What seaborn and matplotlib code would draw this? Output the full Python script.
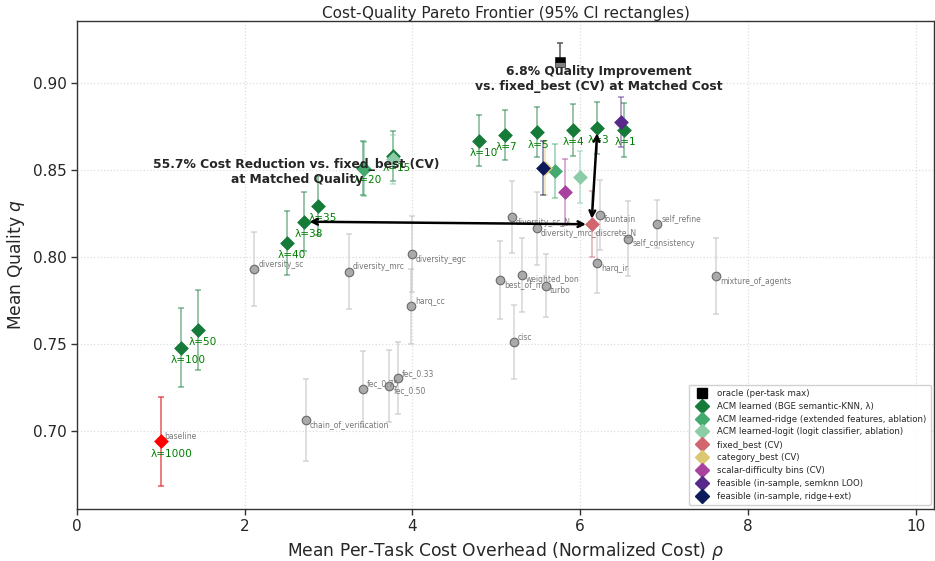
import numpy as np
import pandas as pd
import matplotlib
matplotlib.use("Agg")
import matplotlib.pyplot as plt
from matplotlib.lines import Line2D
import seaborn as sns

# ---------------- data ----------------
base_names = ["chain_of_verification", "diversity_sc", "diversity_mrc", "diversity_egc",
              "harq_cc", "fec_0.75", "fec_0.50", "fec_0.33", "cisc", "best_of_n",
              "weighted_bon", "turbo", "diversity_sc_N", "diversity_mrc_discrete_N",
              "fountain", "harq_ir", "self_consistency", "self_refine", "mixture_of_agents",
              "baseline"]
base_cost = [2.726, 2.111, 3.238, 3.992, 3.988, 3.405, 3.722, 3.825, 5.206, 5.044,
             5.306, 5.591, 5.183, 5.484, 6.234, 6.206, 6.575, 6.920, 7.623, 0.996]
base_q = [0.7063, 0.7929, 0.7916, 0.8015, 0.7717, 0.7243, 0.7259, 0.7303, 0.7510, 0.7868,
          0.7898, 0.7835, 0.8228, 0.8165, 0.8243, 0.7964, 0.8105, 0.8190, 0.7889, 0.6939]
base_err = [0.0236, 0.0213, 0.0214, 0.0218, 0.0216, 0.0218, 0.0208, 0.0207, 0.0214, 0.0226,
            0.0213, 0.0180, 0.0208, 0.0209, 0.0202, 0.0173, 0.0217, 0.0137, 0.0218, 0.0255]
base_label_side = ["below", "above", "above", "below", "above", "above", "below", "above",
                   "above", "below", "below", "below", "below", "below", "below", "below",
                   "below", "above", "below", "above"]

acm_lambda = [1, 3, 4, 5, 7, 10, 15, 20, 35, 38, 40, 50, 100]
acm_cost = [6.524, 6.206, 5.909, 5.484, 5.103, 4.798, 3.766, 3.410, 2.873, 2.706, 2.508, 1.444, 1.238]
acm_q = [0.8730, 0.8743, 0.8730, 0.8717, 0.8701, 0.8668, 0.8582, 0.8510, 0.8295, 0.8203,
         0.8082, 0.7579, 0.7479]
acm_err = [0.0153, 0.0150, 0.0152, 0.0145, 0.0142, 0.0147, 0.0145, 0.0155, 0.0170, 0.0168,
           0.0185, 0.0230, 0.0228]

lam1000_cost = [0.996]
lam1000_q = [0.6939]
lam1000_err = [0.0255]

ridge_cost = [3.420, 5.699]
ridge_q = [0.8504, 0.8494]
ridge_err = [0.0155, 0.0156]

logit_cost = [3.766, 5.996]
logit_q = [0.8562, 0.8462]
logit_err = [0.0140, 0.0150]

fixed_cost = [6.135]
fixed_q = [0.8188]
fixed_err = [0.0190]

cat_cost = [5.575]
cat_q = [0.8510]
cat_err = [0.0155]

scalar_cost = [5.818]
scalar_q = [0.8375]
scalar_err = [0.0190]

semknn_cost = [6.484]
semknn_q = [0.8778]
semknn_err = [0.0144]

ridgeext_cost = [5.556]
ridgeext_q = [0.8510]
ridgeext_err = [0.0155]

oracle_cost = [5.758]
oracle_q = [0.9120]
oracle_err_lo = [0.0030]
oracle_err_hi = [0.0112]

# ---------------- style ----------------
C_ACM = "#167a39"
C_RIDGE = "#43a96f"
C_LOGIT = "#8bcda6"
C_FIXED = "#d2666f"
C_CAT = "#dcc873"
C_SCALAR = "#a9419f"
C_SEMKNN = "#56298a"
C_RIDGEEXT = "#0d1b5a"

sns.set_style("ticks")
plt.rcParams["font.family"] = ["DejaVu Sans"]

fig = plt.figure(figsize=(9.35, 5.61), dpi=100)
ax = fig.add_axes([0.0824, 0.0934, 0.9166, 0.8692])

MS_D = 7.0  # diamond size (pt)


def ebar(x, y, err, color, alpha=0.55, z=3, lw=1.1):
    ax.errorbar(x, y, yerr=err, fmt="none", ecolor=color, alpha=alpha,
                elinewidth=lw, capsize=2.4, capthick=lw, zorder=z)


def diamonds(x, y, color, z=5):
    df = pd.DataFrame({"x": x, "y": y})
    sns.scatterplot(data=df, x="x", y="y", marker="D", s=MS_D ** 2,
                    color=color, edgecolor=color, linewidth=0.5, ax=ax, zorder=z,
                    legend=False)


# grey baselines
ebar(base_cost, base_q, base_err, "#c4c4c4", alpha=0.7, z=1)
bdf = pd.DataFrame({"x": base_cost, "y": base_q})
sns.scatterplot(data=bdf, x="x", y="y", marker="o", s=38, color="#aaaaaa",
                edgecolor="#6a6a6a", linewidth=0.8, ax=ax, zorder=2, legend=False)
for n, x, y, side in zip(base_names, base_cost, base_q, base_label_side):
    dy = 3.6 if side == "above" else -3.6
    ax.annotate(n, (x, y), xytext=(3, dy), textcoords="offset points",
                fontsize=5.5, color="#777777", ha="left", va="center", zorder=2)

# oracle
ax.errorbar(oracle_cost, oracle_q, yerr=[oracle_err_lo, oracle_err_hi], fmt="none",
            ecolor="#555555", elinewidth=1.1, capsize=2.4, capthick=1.1, zorder=3)
ax.plot(oracle_cost, oracle_q, ls="none", marker="s", markersize=7.2,
        markerfacecolor="#808080", markerfacecoloralt="black", fillstyle="bottom",
        markeredgecolor="black", markeredgewidth=0.4, zorder=5)

# ACM learned
ebar(acm_cost, acm_q, acm_err, C_ACM, z=3)
diamonds(acm_cost, acm_q, C_ACM, z=5)
for lam, x, y in zip(acm_lambda, acm_cost, acm_q):
    ax.annotate(f"λ={lam}", (x, y), xytext=(-7, -8.8), textcoords="offset points",
                fontsize=7.6, color="green", ha="left", va="center", zorder=6)

# lambda=1000 (baseline point highlighted)
ebar(lam1000_cost, lam1000_q, lam1000_err, "red", z=3)
diamonds(lam1000_cost, lam1000_q, "red", z=5)
ax.annotate("λ=1000", (lam1000_cost[0], lam1000_q[0]), xytext=(-7, -8.8),
            textcoords="offset points", fontsize=7.6, color="green", ha="left",
            va="center", zorder=6)

# other methods
for cx, cy, ce, col in [(ridge_cost, ridge_q, ridge_err, C_RIDGE),
                        (logit_cost, logit_q, logit_err, C_LOGIT),
                        (fixed_cost, fixed_q, fixed_err, C_FIXED),
                        (cat_cost, cat_q, cat_err, C_CAT),
                        (scalar_cost, scalar_q, scalar_err, C_SCALAR),
                        (semknn_cost, semknn_q, semknn_err, C_SEMKNN),
                        (ridgeext_cost, ridgeext_q, ridgeext_err, C_RIDGEEXT)]:
    ebar(cx, cy, ce, col, z=3)
    diamonds(cx, cy, col, z=5)

# annotations
i38 = acm_lambda.index(38)
i3 = acm_lambda.index(3)
ax.annotate("", xy=(acm_cost[i38], acm_q[i38]), xytext=(fixed_cost[0], fixed_q[0]),
            arrowprops=dict(arrowstyle="<->", color="black", lw=1.8,
                            shrinkA=4, shrinkB=4, mutation_scale=10), zorder=7)
ax.annotate("", xy=(acm_cost[i3], acm_q[i3]), xytext=(fixed_cost[0], fixed_q[0]),
            arrowprops=dict(arrowstyle="<->", color="black", lw=1.8,
                            shrinkA=4, shrinkB=4, mutation_scale=10), zorder=7)
ax.text(2.62, 0.8489, "55.7% Cost Reduction vs. fixed_best (CV)\nat Matched Quality",
        ha="center", va="center", fontsize=8.9, fontweight="bold", zorder=8,
        multialignment="center")
ax.text(6.226, 0.9026, "6.8% Quality Improvement\nvs. fixed_best (CV) at Matched Cost",
        ha="center", va="center", fontsize=8.9, fontweight="bold", zorder=8,
        multialignment="center")

# axes
ax.set_xlim(0, 10.22)
ax.set_ylim(0.6553, 0.9357)
ax.set_xticks([0, 2, 4, 6, 8, 10])
ax.set_yticks([0.70, 0.75, 0.80, 0.85, 0.90])
ax.set_yticklabels(["0.70", "0.75", "0.80", "0.85", "0.90"])
ax.tick_params(labelsize=11, length=4, width=1, color="#333333")
ax.grid(True, ls=":", color="#dddddd", lw=0.9)
for sp in ax.spines.values():
    sp.set_color("#333333")
    sp.set_linewidth(1.0)
ax.set_xlabel(r"Mean Per-Task Cost Overhead (Normalized Cost) $\rho$", fontsize=12.3)
ax.set_ylabel(r"Mean Quality $q$", fontsize=12.3)
ax.set_title("Cost-Quality Pareto Frontier (95% CI rectangles)", fontsize=11, pad=0.5)

handles = [
    Line2D([], [], ls="none", marker="s", markersize=7, color="black"),
]
labels = ["oracle (per-task max)"]
for col, lab in [(C_ACM, "ACM learned (BGE semantic-KNN, λ)"),
                 (C_RIDGE, "ACM learned-ridge (extended features, ablation)"),
                 (C_LOGIT, "ACM learned-logit (logit classifier, ablation)"),
                 (C_FIXED, "fixed_best (CV)"),
                 (C_CAT, "category_best (CV)"),
                 (C_SCALAR, "scalar-difficulty bins (CV)"),
                 (C_SEMKNN, "feasible (in-sample, semknn LOO)"),
                 (C_RIDGEEXT, "feasible (in-sample, ridge+ext)")]:
    handles.append(Line2D([], [], ls="none", marker="D", markersize=MS_D, color=col))
    labels.append(lab)
ax.legend(handles, labels, loc="lower right", fontsize=6.2, frameon=True,
          borderpad=0.5, labelspacing=0.45, handletextpad=0.8, borderaxespad=0.4,
          framealpha=0.9)

fig.savefig("out.png", dpi=100)
